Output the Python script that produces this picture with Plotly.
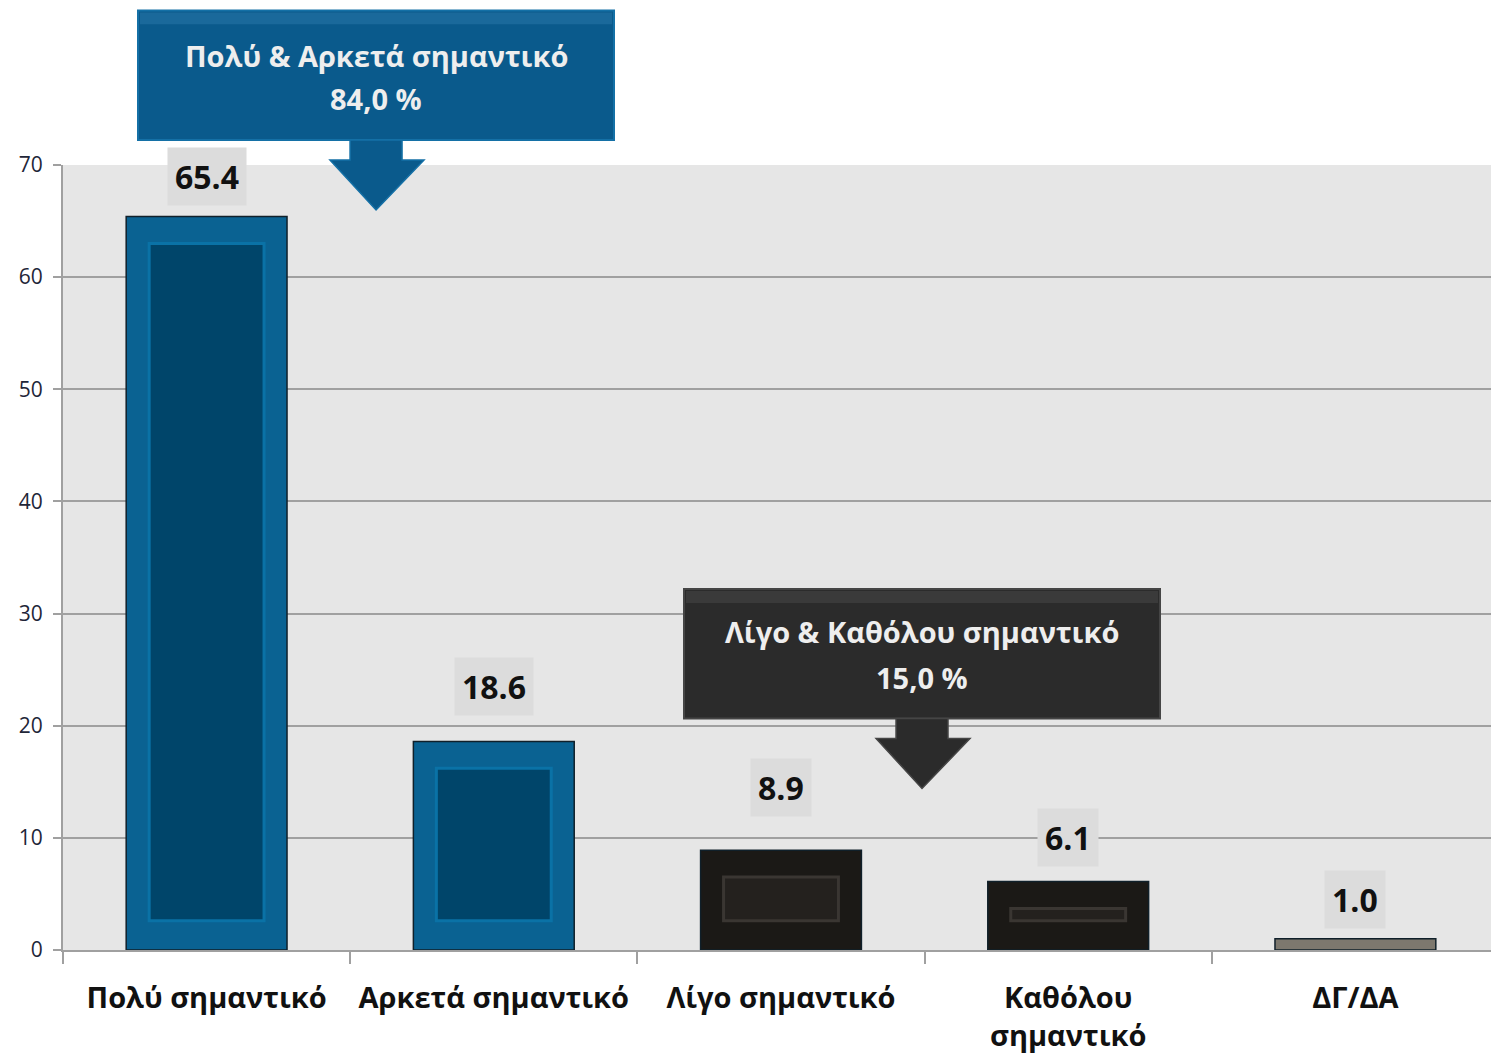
import plotly.graph_objects as go

categories = ["Πολύ σημαντικό", "Αρκετά σημαντικό", "Λίγο σημαντικό", "Καθόλου<br>σημαντικό", "ΔΓ/ΔΑ"]
values = [65.4, 18.6, 8.9, 6.1, 1.0]
value_labels = ["65.4", "18.6", "8.9", "6.1", "1.0"]
y_ticks = [0, 10, 20, 30, 40, 50, 60, 70]
callout_top = ["Πολύ & Αρκετά σημαντικό", "84,0 %"]
callout_bottom = ["Λίγο & Καθόλου σημαντικό", "15,0 %"]

# styles
outer_colors = ["#0a6292", "#0a6292", "#1b1916", "#1b1916", "#7d786e"]
inner_colors = ["#00456a", "#00456a", "#24211e", "#24211e", "#7d786e"]
inner_lines = ["#0a72a6", "#0a72a6", "#3a3632", "#3a3632", "#7d786e"]
label_shift = [40, 55, 63, 44, 39]
FONT = "Open Sans"

# page body has an 8px margin: reference pixel (px, py) -> figure pixel (px-8, py-8)
OFF = 8
W, H = 1499 - OFF, 1062 - 2 * OFF
PL, PT, PB = 63 - OFF, 165 - OFF, 952 - OFF  # plot-area left, top, bottom (figure px)

fig = go.Figure()
fig.add_trace(go.Bar(
    x=categories, y=values, width=0.56,
    marker=dict(color=outer_colors, line=dict(color="#10202a", width=1.5)),
    hoverinfo="skip", showlegend=False,
))
# inner bevel face (only where the bar is tall enough)
inner_x = [c for c, v in zip(categories, values) if v > 5]
inner_base = [2.6 for v in values if v > 5]
inner_h = [v - 5.0 for v in values if v > 5]
fig.add_trace(go.Bar(
    x=inner_x, y=inner_h, base=inner_base, width=0.40,
    marker=dict(color=[c for c, v in zip(inner_colors, values) if v > 5],
                line=dict(color=[c for c, v in zip(inner_lines, values) if v > 5], width=3)),
    hoverinfo="skip", showlegend=False,
))

# value labels
for c, v, t, s in zip(categories, values, value_labels, label_shift):
    fig.add_annotation(x=c, y=v, text=t, showarrow=False, yshift=s, yanchor="middle",
                       font=dict(family=FONT, size=32, color="#111111", weight="bold"),
                       bgcolor="#dcdcdc", borderpad=7)

def px2p(px, py):
    return (px - OFF - PL) / (W - PL), (PB - (py - OFF)) / (PB - PT)

def box_arrow(x0, y0, x1, y1, sx0, sx1, sy1, hx0, hx1, tipx, tipy, fill, line, hi):
    a, b = px2p(x0, y0)
    c, d = px2p(x1, y1)
    fig.add_shape(type="rect", xref="paper", yref="paper", x0=a, y0=b, x1=c, y1=d,
                  fillcolor=fill, line=dict(color=line, width=2))
    a2, b2 = px2p(x0 + 2, y0 + 2)
    c2, d2 = px2p(x1 - 2, y0 + 14)
    fig.add_shape(type="rect", xref="paper", yref="paper", x0=a2, y0=b2, x1=c2, y1=d2,
                  fillcolor=hi, line=dict(width=0), opacity=0.35)
    p = [px2p(sx0, y1), px2p(sx0, sy1), px2p(hx0, sy1), px2p(tipx, tipy),
         px2p(hx1, sy1), px2p(sx1, sy1), px2p(sx1, y1)]
    path = "M " + " L ".join(f"{x:.4f},{y:.4f}" for x, y in p) + " Z"
    fig.add_shape(type="path", xref="paper", yref="paper", path=path,
                  fillcolor=fill, line=dict(color=line, width=1.5))

box_arrow(138, 10, 614, 140, 350, 402, 160, 330, 424, 376, 210, "#0a5a8c", "#1470a6", "#3a86b8")
box_arrow(684, 590, 1160, 720, 896, 948, 740, 876, 970, 922, 790, "#2b2b2b", "#454545", "#555555")

for txt, (cx, cy) in zip(callout_top, [(376, 55), (376, 98)]):
    tx, ty = px2p(cx, cy)
    fig.add_annotation(xref="paper", yref="paper", x=tx, y=ty, text=txt, showarrow=False,
                       xanchor="center", yanchor="middle",
                       font=dict(family=FONT, size=29, color="#eeeeee", weight="bold"))
for txt, (cx, cy) in zip(callout_bottom, [(922, 633), (922, 679)]):
    tx, ty = px2p(cx, cy)
    fig.add_annotation(xref="paper", yref="paper", x=tx, y=ty, text=txt, showarrow=False,
                       xanchor="center", yanchor="middle",
                       font=dict(family=FONT, size=29, color="#eeeeee", weight="bold"))

# thin frame strip at top of picture
a, b = px2p(0, 0); c, d = px2p(1499, 4)
fig.add_shape(type="rect", xref="paper", yref="paper", x0=a, y0=b, x1=c, y1=d,
              fillcolor="#c8c8c8", line=dict(width=0), layer="below")

fig.update_layout(
    width=W, height=H,
    margin=dict(l=PL, r=0, t=PT, b=H - PB),
    paper_bgcolor="white", plot_bgcolor="#e6e6e6",
    barmode="overlay", bargap=0.44,
    font=dict(family=FONT),
)
fig.update_xaxes(
    type="category", tickson="boundaries", ticks="outside", ticklen=12, tickwidth=2,
    tickcolor="#a0a0a0", showline=True, linecolor="#a0a0a0", linewidth=2,
    tickfont=dict(family=FONT, size=29, color="#111111", weight="bold"),
    ticklabelstandoff=21, showgrid=False,
)
fig.update_yaxes(
    range=[0, 70], tickvals=y_ticks, ticks="outside", ticklen=8, tickwidth=2,
    tickcolor="#a0a0a0", showline=True, linecolor="#a0a0a0", linewidth=2,
    gridcolor="#a0a0a0", gridwidth=2, zeroline=False,
    tickfont=dict(family=FONT, size=21, color="#1f2638"), ticklabelstandoff=6,
)

fig.write_html("out.html")
